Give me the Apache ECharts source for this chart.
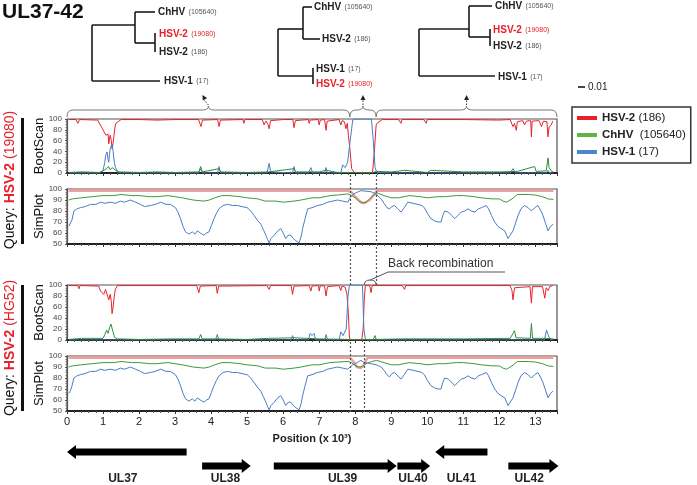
<!DOCTYPE html>
<html><head><meta charset="utf-8">
<script src="https://cdn.jsdelivr.net/npm/echarts@6/dist/echarts.min.js"></script>
<style>html,body{margin:0;padding:0;background:#fff}#c{width:697px;height:485px}</style>
</head><body><div id="c"></div>
<script>
// ---------- DATA ----------
const xTicks = [0,1,2,3,4,5,6,7,8,9,10,11,12,13];
const seriesNames = ['HSV-2 (186)', 'ChHV (105640)', 'HSV-1 (17)'];
// Query 19080 BootScan
const bs1Red = [[0.05,99],[0.25,99],[0.3,92],[0.35,99],[0.85,98],[0.9,95],[0.95,86],[1.0,80],[1.03,76],[1.08,70],[1.11,67],[1.14,72],[1.16,54],[1.18,65],[1.2,70],[1.23,60],[1.25,45],[1.28,55],[1.3,67],[1.33,85],[1.36,92],[1.44,96],[1.5,99],[2.0,99],[2.5,98],[3.0,99],[3.65,99],[3.7,90],[3.72,86],[3.76,98],[4.18,99],[4.22,86],[4.26,98],[4.88,99],[4.91,92],[4.94,99],[5.42,99],[5.47,89],[5.52,96],[5.58,90],[5.61,82],[5.65,97],[6.0,99],[6.27,99],[6.3,84],[6.34,97],[6.7,99],[6.72,92],[6.75,98],[6.97,99],[7.0,89],[7.03,98],[7.15,99],[7.19,79],[7.22,96],[7.55,99],[7.6,89],[7.64,97],[7.7,95],[7.74,82],[7.78,92],[7.81,70],[7.86,39],[7.9,8],[7.97,1],[8.2,0],[8.48,1],[8.53,39],[8.58,89],[8.62,93],[8.67,96],[8.75,99],[9.2,99],[9.27,92],[9.3,99],[9.9,99],[9.97,92],[10.0,99],[11,99],[12.0,98],[12.3,99],[12.35,90],[12.38,86],[12.42,92],[12.47,79],[12.5,95],[12.65,97],[12.7,89],[12.75,96],[12.87,97],[12.89,67],[12.91,96],[13.1,97],[13.17,86],[13.22,96],[13.32,95],[13.35,67],[13.38,85],[13.44,89],[13.48,96]];
const bs1Blue = [[0.05,0],[0.9,0],[1.0,5],[1.05,20],[1.07,32],[1.11,39],[1.14,25],[1.16,20],[1.18,35],[1.2,45],[1.25,54],[1.28,40],[1.3,26],[1.34,11],[1.4,2],[1.5,0],[3.65,0],[3.71,8],[3.75,0],[4.18,0],[4.22,12],[4.26,0],[5.55,0],[5.61,18],[5.65,2],[6.26,0],[6.3,12],[6.34,0],[6.7,0],[6.77,10],[6.82,0],[7.15,0],[7.19,10],[7.23,0],[7.6,0],[7.65,15],[7.72,10],[7.79,20],[7.86,60],[7.93,98],[8.0,100],[8.45,100],[8.5,60],[8.55,10],[8.6,1],[9,0],[12.3,0],[12.38,8],[12.45,0],[13.3,0],[13.35,5],[13.4,0],[13.5,0]];
const bs1Green = [[0.05,1],[0.4,2],[0.9,1],[1.0,4],[1.1,8],[1.15,12],[1.2,6],[1.25,10],[1.3,12],[1.35,5],[1.45,2],[2,1],[2.5,2],[3.0,1],[3.66,2],[3.71,12],[3.76,2],[4.22,8],[4.27,2],[5,1],[5.6,2],[6.3,8],[6.35,2],[7.0,2],[7.19,5],[7.5,1],[7.9,1],[8.5,1],[8.6,3],[9.0,2],[9.37,5],[9.42,2],[10,1],[10.1,5],[10.15,2],[11,2],[12,2],[12.5,3],[12.98,12],[13.02,3],[13.3,4],[13.35,28],[13.38,10],[13.45,3],[13.5,2]];
// Query 19080 SimPlot
const sp1Red = [[0.05,98.5],[7.8,98.5],[7.9,97],[8.0,93],[8.15,88],[8.25,87],[8.4,90],[8.55,96],[8.6,98.5],[13.5,98.5]];
const sp1Green = [[0.05,90],[0.15,91],[0.4,92],[0.7,93],[1.0,94],[1.3,94],[1.5,95],[1.8,94],[2.0,94],[2.3,93],[2.5,93],[2.8,94],[3.0,93],[3.2,92],[3.5,90],[3.8,89],[3.95,90],[4.1,92],[4.3,94],[4.5,94],[4.8,93],[5.0,92],[5.3,91],[5.5,89],[5.8,89],[6.0,88],[6.3,89],[6.5,90],[6.8,92],[7.0,92],[7.3,94],[7.5,94.5],[7.8,95.5],[7.9,94],[8.0,92],[8.1,89],[8.2,87.5],[8.3,88],[8.4,91],[8.5,94],[8.6,96.5],[8.8,94],[9.0,92],[9.2,92],[9.5,94],[9.8,93],[10.0,92],[10.3,93],[10.5,93],[10.8,94],[11.0,94],[11.3,93],[11.5,92],[11.8,91],[12.0,91],[12.1,89],[12.2,88],[12.35,91],[12.5,95],[12.8,95],[13.0,94.5],[13.2,93],[13.35,91],[13.5,90.5]];
const sp1Blue = [[0.05,66],[0.09,67],[0.14,72],[0.19,80],[0.28,82],[0.37,83],[0.5,84],[0.65,86],[0.8,86],[0.93,88],[1.05,87],[1.2,88],[1.35,87],[1.48,89],[1.6,88],[1.76,90],[1.9,88],[2.04,86],[2.15,84],[2.32,85],[2.45,86],[2.6,88],[2.75,86],[2.87,86],[3.01,83],[3.08,79],[3.15,73],[3.22,66],[3.29,61],[3.38,59],[3.48,61],[3.55,59],[3.62,62],[3.7,60],[3.8,58],[3.87,60],[3.94,61],[4.01,67],[4.08,73],[4.15,78],[4.22,82],[4.33,85],[4.45,86],[4.6,85],[4.73,85],[4.86,84],[5.0,83],[5.1,80],[5.19,76],[5.3,71],[5.38,68],[5.45,63],[5.52,58],[5.57,54],[5.61,51],[5.66,55],[5.75,58],[5.85,62],[5.93,64],[6.0,60],[6.07,55],[6.14,58],[6.21,58],[6.28,55],[6.35,53],[6.44,51],[6.5,57],[6.54,64],[6.6,72],[6.68,82],[6.8,83],[6.95,85],[7.1,86],[7.23,88],[7.37,89],[7.51,90],[7.65,89],[7.79,88],[7.86,92],[7.93,95],[8.05,97],[8.16,98.5],[8.3,98],[8.44,97.5],[8.58,95.5],[8.65,93],[8.72,91],[8.8,87],[8.88,83],[8.95,82],[9.02,84],[9.09,85],[9.18,82],[9.27,79],[9.36,83],[9.46,88],[9.6,87],[9.74,86],[9.85,85],[9.92,83],[10.0,78],[10.1,73],[10.2,71],[10.3,70],[10.38,70],[10.43,76],[10.48,80],[10.58,79],[10.68,76],[10.76,73],[10.85,76],[10.94,79],[11.04,80],[11.13,82],[11.22,80],[11.32,79],[11.42,82],[11.5,83],[11.64,85],[11.7,82],[11.78,76],[11.87,70],[11.96,66],[12.05,64],[12.15,62],[12.2,58],[12.24,55],[12.3,58],[12.38,62],[12.45,69],[12.52,76],[12.6,82],[12.7,85],[12.8,83],[12.89,80],[12.98,83],[13.07,85],[13.14,81],[13.21,76],[13.28,69],[13.35,62],[13.42,66],[13.49,68]];
// Query HG52 BootScan
const bs2Red = [[0.05,99],[0.3,99],[0.33,93],[0.36,99],[0.88,98],[0.93,89],[0.98,90],[1.02,83],[1.07,92],[1.11,89],[1.16,73],[1.2,83],[1.23,70],[1.25,48],[1.28,60],[1.3,73],[1.34,92],[1.4,99],[3.6,99],[3.66,86],[3.7,98],[4.14,99],[4.17,85],[4.21,98],[5.55,99],[5.61,92],[5.65,99],[6.22,99],[6.26,83],[6.3,98],[6.72,99],[6.77,89],[6.8,98],[6.98,99],[7.0,89],[7.03,99],[7.15,98],[7.19,80],[7.23,97],[7.55,99],[7.6,90],[7.63,98],[7.72,96],[7.77,83],[7.81,48],[7.84,3],[7.9,0],[8.18,0],[8.22,20],[8.25,73],[8.28,99],[8.4,99],[8.44,86],[8.47,99],[9.3,99],[9.37,92],[9.4,99],[12.3,99],[12.35,90],[12.38,73],[12.42,95],[12.85,97],[12.89,67],[12.92,97],[13.2,97],[13.26,76],[13.3,95],[13.35,90],[13.4,97],[13.48,99]];
const bs2Blue = [[0.05,0],[4.12,0],[4.17,10],[4.22,0],[6.22,0],[6.26,8],[6.3,0],[6.7,0],[6.75,12],[6.8,8],[6.86,12],[6.9,0],[7.15,0],[7.19,10],[7.23,0],[7.55,0],[7.6,15],[7.66,8],[7.75,20],[7.8,80],[7.84,100],[8.2,100],[8.24,20],[8.28,2],[8.35,0],[13.25,0],[13.31,18],[13.35,10],[13.4,2],[13.5,0]];
const bs2Green = [[0.05,1],[0.4,3],[0.45,1],[1.0,3],[1.05,10],[1.1,18],[1.14,12],[1.18,22],[1.22,29],[1.25,28],[1.28,14],[1.32,5],[1.4,2],[2.0,1],[3.0,2],[3.66,2],[3.71,10],[3.75,2],[4.2,2],[5.0,1],[5.6,3],[6.3,4],[7.0,2],[7.8,1],[8.5,1],[8.55,8],[8.58,1],[9.3,2],[10.0,2],[11,2],[12.3,3],[12.38,12],[12.42,17],[12.46,4],[12.86,3],[12.89,30],[12.92,3],[13.3,3],[13.5,2]];
// Query HG52 SimPlot
const sp2Red = [[0.05,98.5],[7.85,98.5],[7.95,95],[8.05,90],[8.15,89],[8.22,91],[8.3,96],[8.35,98.5],[13.5,98.5]];
const sp2Green = [[0.05,90],[0.15,91],[0.4,92],[0.7,93],[1.0,94],[1.3,94],[1.5,95],[1.8,94],[2.0,94],[2.3,93],[2.5,93],[2.8,94],[3.0,93],[3.2,92],[3.5,90],[3.8,89],[3.95,90],[4.1,92],[4.3,94],[4.5,94],[4.8,93],[5.0,92],[5.3,91],[5.5,89],[5.8,89],[6.0,88],[6.3,89],[6.5,90],[6.8,92],[7.0,92],[7.3,94],[7.5,94.5],[7.8,95],[7.9,94],[8.0,91],[8.1,90],[8.2,90.5],[8.3,93],[8.45,95],[8.6,96],[8.8,94],[9.0,92],[9.2,92],[9.5,94],[9.8,93],[10.0,92],[10.3,93],[10.5,93],[10.8,94],[11.0,94],[11.3,93],[11.5,92],[11.8,91],[12.0,91],[12.1,89],[12.2,88],[12.35,91],[12.5,95],[12.8,95],[13.0,94.5],[13.2,93],[13.35,91],[13.5,90.5]];
const sp2Blue = [[0.05,66],[0.09,68],[0.14,73],[0.19,80],[0.28,82],[0.37,83],[0.5,84],[0.65,86],[0.8,86],[0.93,88],[1.05,87],[1.2,88],[1.35,87],[1.48,89],[1.6,88],[1.76,90],[1.9,88],[2.04,86],[2.15,84],[2.32,85],[2.45,86],[2.6,88],[2.75,86],[2.87,86],[3.01,83],[3.08,79],[3.15,73],[3.22,66],[3.29,61],[3.38,59],[3.48,61],[3.55,59],[3.62,62],[3.7,60],[3.8,58],[3.87,60],[3.94,61],[4.01,67],[4.08,73],[4.15,78],[4.22,82],[4.33,85],[4.45,86],[4.6,85],[4.73,85],[4.86,84],[5.0,83],[5.1,80],[5.19,76],[5.3,71],[5.38,68],[5.45,63],[5.52,58],[5.57,54],[5.61,51],[5.66,55],[5.75,58],[5.85,62],[5.93,64],[6.0,60],[6.07,55],[6.14,58],[6.21,58],[6.28,55],[6.35,53],[6.44,51],[6.5,57],[6.54,64],[6.6,72],[6.68,82],[6.8,83],[6.95,85],[7.1,86],[7.23,88],[7.37,89],[7.51,90],[7.65,89],[7.79,88],[7.86,90],[7.93,92],[8.0,93],[8.1,95],[8.16,96],[8.25,94],[8.3,93],[8.44,93],[8.58,92],[8.65,91],[8.72,90],[8.8,87],[8.88,83],[8.95,81],[9.02,84],[9.09,85],[9.18,82],[9.27,79],[9.36,83],[9.46,88],[9.6,87],[9.74,86],[9.85,85],[9.92,83],[10.0,78],[10.1,73],[10.2,71],[10.3,70],[10.38,70],[10.43,76],[10.48,80],[10.58,79],[10.68,76],[10.76,73],[10.85,76],[10.94,79],[11.04,80],[11.13,82],[11.22,80],[11.32,79],[11.42,82],[11.5,83],[11.64,85],[11.7,82],[11.78,76],[11.87,70],[11.96,66],[12.05,64],[12.15,62],[12.2,58],[12.24,55],[12.3,58],[12.38,62],[12.45,69],[12.52,76],[12.6,82],[12.7,85],[12.8,83],[12.89,80],[12.98,83],[13.07,85],[13.14,81],[13.21,76],[13.28,69],[13.35,62],[13.42,66],[13.49,68]];
// recombination breakpoints (x 10^3)
const topBreaks = [7.85, 8.58];
const bottomBreaks = [7.86, 8.25];
const braceBounds = [0, 7.85, 8.58, 13.6];
// genes: name, start, end, direction (+1 right / -1 left), row, label position
const geneNames = ['UL37','UL38','UL39','UL40','UL41','UL42'];
const geneStart = [0.0, 3.75, 5.74, 9.17, 10.22, 12.25];
const geneEnd   = [3.32, 5.10, 9.15, 10.08, 11.67, 13.64];
const geneDir   = [-1, 1, 1, 1, -1, 1];
const geneRow   = [0, 1, 1, 1, 0, 1];
const geneLabelX = [1.55, 4.4, 7.65, 9.6, 10.95, 12.83];

// ---------- CHART ----------
const FONT = 'Liberation Sans, Arial, sans-serif';
const RED = '#e5232a', GREEN = '#2f8f3a', BLUE = '#4a7dc4';
const chart = echarts.init(document.getElementById('c'), null, {renderer:'canvas'});
const XMAX = 13.6;
const panelGrids = [
  {top:119, height:54}, {top:189, height:55}, {top:285, height:55}, {top:356, height:55}
];
const grids = panelGrids.map(g => ({left:67, width:490, top:g.top, height:g.height, show:true, borderColor:'#555', borderWidth:1.2, backgroundColor:'transparent'}));
grids.push({left:67, width:490, top:173, height:112});
grids.push({left:67, width:490, top:340, height:72});
grids.push({left:67, width:490, top:452, height:14});

const xAxes = [0,1,2,3].map(i => ({
  gridIndex:i, type:'value', min:0, max:XMAX, interval:1,
  axisLine:{show:true, onZero:false, lineStyle:{color:'#222', width:2}},
  axisTick:{show:true, length:3, lineStyle:{color:'#333'}},
  minorTick:{show:true, splitNumber:5, length:2, lineStyle:{color:'#555'}},
  splitLine:{show:false},
  axisLabel:{show:i===3, fontSize:11, color:'#222', margin:5, showMaxLabel:false, fontFamily:FONT},
  name: i===3 ? 'Position (x 10³)' : '', nameLocation:'middle', nameGap:22,
  nameTextStyle:{fontSize:11, fontWeight:'bold', color:'#222', fontFamily:FONT}
}));
[4,5,6].forEach(i => xAxes.push({gridIndex:i, type:'value', min:0, max:XMAX, show:false}));

const yAxes = [0,1,2,3].map(i => {
  const boot = (i % 2 === 0);
  return {
    gridIndex:i, type:'value', min: boot?0:50, max:100, interval: boot?20:10,
    axisLine:{show:true, lineStyle:{color:'#555', width:1.2}},
    axisTick:{show:true, length:2, lineStyle:{color:'#555'}},
    minorTick:{show:true, splitNumber:4, length:1.5, lineStyle:{color:'#777'}},
    splitLine:{show:false},
    axisLabel:{fontSize:8, color:'#444', margin:5, fontFamily:FONT},
    name: boot ? 'BootScan' : 'SimPlot', nameLocation:'middle', nameGap:21, nameMoveOverlap:false,
    nameTextStyle:{fontSize:13, color:'#111', fontFamily:FONT}
  };
});
yAxes.push({gridIndex:4, type:'value', min:0, max:1, show:false});
yAxes.push({gridIndex:5, type:'value', min:0, max:1, show:false});
yAxes.push({gridIndex:6, type:'value', min:0, max:1, inverse:true, show:false});

function lineSeries(name, data, idx, color, width, z) {
  return {name, type:'line', data, xAxisIndex:idx, yAxisIndex:idx, showSymbol:false, symbol:'none',
    lineStyle:{color, width}, itemStyle:{color}, z: z||2, animation:false, silent:true};
}
const series = [
  lineSeries(seriesNames[0], bs1Red, 0, RED, 1),
  lineSeries(seriesNames[2], bs1Blue, 0, BLUE, 1),
  lineSeries(seriesNames[1], bs1Green, 0, GREEN, 1),
  lineSeries(seriesNames[0], sp1Red, 1, '#f29c9c', 2.5),
  lineSeries(seriesNames[1], sp1Green, 1, '#3d9b3d', 1),
  lineSeries(seriesNames[2], sp1Blue, 1, BLUE, 1),
  lineSeries(seriesNames[0], bs2Red, 2, RED, 1),
  lineSeries(seriesNames[2], bs2Blue, 2, BLUE, 1),
  lineSeries(seriesNames[1], bs2Green, 2, GREEN, 1),
  lineSeries(seriesNames[0], sp2Red, 3, '#f29c9c', 2.5),
  lineSeries(seriesNames[1], sp2Green, 3, '#3d9b3d', 1),
  lineSeries(seriesNames[2], sp2Blue, 3, BLUE, 1),
];
function breakLines(idx, xs) {
  return {type:'line', xAxisIndex:idx, yAxisIndex:idx, data:[[0,0]], showSymbol:false, lineStyle:{opacity:0}, silent:true, animation:false, z:5,
    markLine:{silent:true, symbol:'none', label:{show:false}, animation:false,
      lineStyle:{type:[2,2], color:'#555', width:1.2}, data: xs.map(v => ({xAxis:v}))}};
}
series.push(breakLines(4, topBreaks));
series.push(breakLines(5, bottomBreaks));
series.push({
  type:'custom', xAxisIndex:6, yAxisIndex:6, silent:true, animation:false,
  data: geneNames.map((n,i) => [geneStart[i], geneEnd[i], geneDir[i], geneRow[i], geneLabelX[i], n]),
  renderItem: (params, api) => {
    const s = api.value(0), e = api.value(1), d = api.value(2), r = api.value(3), lx = api.value(4);
    const p1 = api.coord([s, r]), p2 = api.coord([e, r]);
    const y = p1[1], h = 3.5, H = 7, hl = 9;
    let pts;
    if (d > 0) {
      const x1 = p1[0], x2 = p2[0];
      pts = [[x1,y-h],[x2-hl,y-h],[x2-hl,y-H],[x2,y],[x2-hl,y+H],[x2-hl,y+h],[x1,y+h]];
    } else {
      const x1 = p1[0], x2 = p2[0];
      pts = [[x2,y-h],[x1+hl,y-h],[x1+hl,y-H],[x1,y],[x1+hl,y+H],[x1+hl,y+h],[x2,y+h]];
    }
    const lp = api.coord([lx, 1]);
    return {type:'group', children:[
      {type:'polygon', shape:{points:pts}, style:{fill:'#000'}},
      {type:'text', x: lp[0], y: lp[1] + 13, style:{text: geneNames[params.dataIndex], fontSize:12, fontWeight:'bold', fill:'#222', align:'center', verticalAlign:'middle', font:'bold 12px ' + FONT}}
    ]};
  }
});

const option = {
  backgroundColor:'#fff',
  animation:false,
  textStyle:{fontFamily:FONT},
  title:{text:'UL37-42', left:2, top:2, padding:0, textStyle:{fontSize:21, fontWeight:'bold', color:'#111', fontFamily:FONT}},
  legend:{
    orient:'vertical', left:572, top:107, icon:'rect', itemWidth:20, itemHeight:4, itemGap:5,
    borderColor:'#333', borderWidth:1.5, padding:[5,5,5,5],
    data: [
      {name:seriesNames[0], itemStyle:{color:'#e8202a'}},
      {name:seriesNames[1], itemStyle:{color:'#5cb646'}},
      {name:seriesNames[2], itemStyle:{color:'#4a86c8'}}
    ],
    formatter: n => { const k = n.indexOf(' ('); return '{b|' + n.slice(0,k) + '}{n|' + (n.indexOf('ChHV')===0?'  ':' ') + n.slice(k+1) + '}'; },
    textStyle:{rich:{b:{fontWeight:'bold', fontSize:11.5, color:'#222', fontFamily:FONT}, n:{fontSize:11.5, color:'#222', fontFamily:FONT}}}
  },
  grid: grids, xAxis: xAxes, yAxis: yAxes, series
};
chart.setOption(option);

// ---------- ANNOTATIONS (trees, braces, labels) ----------
const G = [];
const STK = '#1a1a1a';
function pl(points, w, color) { G.push({type:'polyline', shape:{points}, style:{stroke:color||STK, lineWidth:w||1.6, fill:null}, silent:true}); }
function lbl(x, y, name, num, red) {
  G.push({type:'text', x, y, silent:true, style:{
    text:'{a|' + name + '} {b|' + num + '}', verticalAlign:'middle', align:'left',
    rich:{a:{fontSize:10, fontWeight:'bold', fill: red?'#e8202a':'#222', fontFamily:FONT},
          b:{fontSize:7, fill: red?'#e8202a':'#555', fontFamily:FONT}}}});
}
// tree 1
pl([[135,12],[135,43]]); pl([[92,25],[92,81]]); pl([[92,25],[135,25]]);
pl([[135,12],[155,12]]); pl([[135,43],[155,43]]); pl([[155,33],[155,52]]); pl([[92,81],[160,81]]);
lbl(158,12,'ChHV','(105640)'); lbl(159,34,'HSV-2','(19080)',true); lbl(159,52,'HSV-2','(186)'); lbl(164,81,'HSV-1','(17)');
// tree 2
pl([[278,29],[278,76]]); pl([[278,29],[303,29]]); pl([[303,7],[303,39]]);
pl([[303,7],[312,7]]); pl([[303,39],[320,39]]); pl([[278,76],[313,76]]); pl([[313,68],[313,84]]);
lbl(314,7,'ChHV','(105640)'); lbl(322,39,'HSV-2','(186)'); lbl(316,69,'HSV-1','(17)'); lbl(316,84,'HSV-2','(19080)',true);
// tree 3
pl([[419,29],[419,76]]); pl([[419,29],[469,29]]); pl([[469,6],[469,37]]);
pl([[469,6],[492,6]]); pl([[469,37],[490,37]]); pl([[490,29],[490,46]]); pl([[419,76],[495,76]]);
lbl(495,6,'ChHV','(105640)'); lbl(493,30,'HSV-2','(19080)',true); lbl(493,46,'HSV-2','(186)'); lbl(498,77,'HSV-1','(17)');
// scale bar
pl([[578,87],[585,87]], 1.6);
G.push({type:'text', x:588, y:87, silent:true, style:{text:'0.01', fontSize:10, fill:'#222', verticalAlign:'middle', font:'10px '+FONT}});

// braces above panel 1
const px = v => chart.convertToPixel({gridIndex:0}, [v, 100])[0];
const yFlat = 110, yEnd = 117, yTip = 106, BR = '#777';
for (let i = 0; i < 3; i++) {
  const x1 = px(braceBounds[i]), x2 = px(braceBounds[i+1]), m = (x1 + x2) / 2;
  const r = Math.min(6, (x2 - x1) / 4);
  const sty = {stroke:BR, lineWidth:1, fill:null};
  G.push({type:'bezierCurve', silent:true, shape:{x1:x1, y1:yEnd, x2:x1+r, y2:yFlat, cpx1:x1, cpy1:yFlat}, style:sty});
  G.push({type:'line', silent:true, shape:{x1:x1+r, y1:yFlat, x2:m-r, y2:yFlat}, style:sty});
  G.push({type:'bezierCurve', silent:true, shape:{x1:m-r, y1:yFlat, x2:m, y2:yTip, cpx1:m, cpy1:yFlat}, style:sty});
  G.push({type:'bezierCurve', silent:true, shape:{x1:m, y1:yTip, x2:m+r, y2:yFlat, cpx1:m, cpy1:yFlat}, style:sty});
  G.push({type:'line', silent:true, shape:{x1:m+r, y1:yFlat, x2:x2-r, y2:yFlat}, style:sty});
  G.push({type:'bezierCurve', silent:true, shape:{x1:x2-r, y1:yFlat, x2:x2, y2:yEnd, cpx1:x2, cpy1:yFlat}, style:sty});
  const dx = (i === 0) ? -6 : 0;
  const hx = m + dx, hy = 95;
  G.push({type:'line', silent:true, shape:{x1:m, y1:yTip-1, x2:hx, y2:hy+3}, style:{stroke:'#333', lineWidth:1, lineDash:[1.5,1.5]}});
  const ang = Math.atan2(hy - (yTip-1), hx - m);
  const L = 5, W = 2.5;
  const bx = hx - L*Math.cos(ang), by = hy - L*Math.sin(ang);
  G.push({type:'polygon', silent:true, shape:{points:[[hx,hy],[bx + W*Math.sin(ang), by - W*Math.cos(ang)],[bx - W*Math.sin(ang), by + W*Math.cos(ang)]]}, style:{fill:'#222'}});
}

// query labels + bars
G.push({type:'rect', silent:true, shape:{x:21, y:118, width:3, height:126}, style:{fill:'#111'}});
G.push({type:'rect', silent:true, shape:{x:21, y:285, width:3, height:126}, style:{fill:'#111'}});
function query(y, id) {
  G.push({type:'text', x:10, y, rotation:Math.PI/2, silent:true, style:{
    text:'{k|Query: }{r|HSV-2}{n| (' + id + ')}', align:'center', verticalAlign:'middle',
    rich:{k:{fontSize:14, fill:'#111', fontFamily:FONT}, r:{fontSize:14, fontWeight:'bold', fill:'#e8202a', fontFamily:FONT}, n:{fontSize:14, fill:'#e8202a', fontFamily:FONT}}}});
}
query(180, '19080');
query(348, 'HG52');

// Back recombination
const p3 = v => chart.convertToPixel({gridIndex:2}, [v, 100]);
const a1 = p3(bottomBreaks[1])[0], a2 = p3(topBreaks[1])[0], am = (a1 + a2) / 2;
const ay = p3(bottomBreaks[1])[1];
G.push({type:'bezierCurve', silent:true, shape:{x1:a1, y1:ay, x2:am, y2:ay-5, cpx1:a1, cpy1:ay-5}, style:{stroke:'#555', lineWidth:1, fill:null}});
G.push({type:'bezierCurve', silent:true, shape:{x1:am, y1:ay-5, x2:a2, y2:ay, cpx1:a2, cpy1:ay-5}, style:{stroke:'#555', lineWidth:1, fill:null}});
pl([[am, ay-5],[388,272],[505,272]], 1, '#555');
G.push({type:'text', x:388, y:264, silent:true, style:{text:'Back recombination', fontSize:12, fill:'#333', verticalAlign:'middle', font:'12px '+FONT}});

chart.setOption({graphic:{elements:G}});
</script></body></html>
